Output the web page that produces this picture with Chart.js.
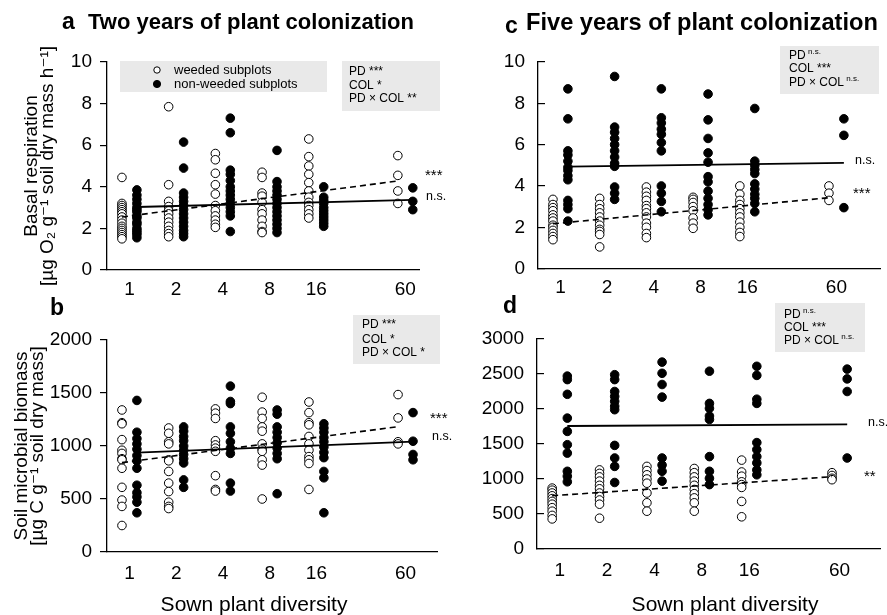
<!DOCTYPE html>
<html lang="en">
<head>
<meta charset="utf-8">
<title>Soil microbial responses to plant colonization</title>
<script src="https://cdn.jsdelivr.net/npm/chart.js@4.4.1/dist/chart.umd.min.js"></script>
<style>
  html, body { margin: 0; padding: 0; background: #fff; }
  #figure { position: relative; width: 887px; height: 615px; overflow: hidden; }
  #figure canvas { position: absolute; }
</style>
</head>
<body>
<div id="figure">
  <canvas id="panel-a" width="460" height="300" style="left:0;top:0"></canvas>
  <canvas id="panel-b" width="460" height="330" style="left:0;top:285px"></canvas>
  <canvas id="panel-c" width="444" height="300" style="left:443px;top:0"></canvas>
  <canvas id="panel-d" width="444" height="330" style="left:443px;top:285px"></canvas>
</div>
<script>
const FONT = "'Liberation Sans', Arial, 'DejaVu Sans', sans-serif";
Chart.defaults.font.family = FONT;
Chart.defaults.color = '#000';

// sown plant diversity levels (x categories)
const diversityLevels = [1, 2, 4, 8, 16, 60];

// basal respiration, two years (weeded / non-weeded), one list per diversity level
const respWeeded2y = [
    [4.45, 3.2, 3.1, 3.0, 2.9, 2.8, 2.7, 2.55, 2.4, 2.25, 2.1, 2.0, 1.9, 1.8, 1.7, 1.6, 1.5],
    [7.85, 4.1, 3.3, 3.05, 2.85, 2.7, 2.5, 2.3, 2.1, 1.9, 1.75, 1.6],
    [5.6, 5.3, 4.65, 4.1, 3.65, 3.1, 2.85, 2.6, 2.4, 2.2, 2.05],
    [4.7, 4.45, 3.7, 3.55, 3.25, 2.9, 2.7, 2.4, 2.1, 1.85, 1.8],
    [6.3, 5.45, 5.0, 4.6, 4.2, 3.8, 3.5, 3.25, 3.1, 2.9, 2.7, 2.5],
    [5.5, 4.55, 3.8, 3.2]
];
const respNonWeeded2y = [
    [3.85, 3.6, 3.4, 3.2, 3.0, 2.9, 2.8, 2.6, 2.5, 2.3, 2.2, 2.0, 1.9, 1.8, 1.7, 1.55],
    [6.15, 4.9, 3.7, 3.5, 3.3, 3.1, 2.9, 2.7, 2.5, 2.3, 2.1, 1.9, 1.75, 1.6],
    [7.3, 6.6, 4.8, 4.6, 4.3, 4.0, 3.8, 3.6, 3.4, 3.2, 3.0, 2.8, 2.6, 1.85],
    [5.75, 4.25, 4.0, 3.8, 3.6, 3.4, 3.2, 3.0, 2.8, 2.6, 2.4, 2.2, 2.0, 1.8],
    [4.0, 3.5, 3.35, 3.2, 3.0, 2.85, 2.7, 2.55, 2.4, 2.25, 2.1],
    [3.95, 3.3, 2.9]
];

// basal respiration, five years
const respWeeded5y = [
    [3.35, 3.1, 2.95, 2.8, 2.6, 2.45, 2.3, 2.1, 2.0, 1.85, 1.7, 1.55, 1.4],
    [3.4, 3.1, 2.9, 2.7, 2.5, 2.3, 2.1, 1.9, 1.8, 1.65, 1.05],
    [3.95, 3.7, 3.5, 3.3, 3.05, 2.9, 2.7, 2.5, 2.2, 2.0, 1.7, 1.5],
    [3.45, 3.35, 3.2, 3.0, 2.8, 2.45, 2.2, 1.95],
    [4.0, 3.6, 3.3, 3.1, 2.9, 2.7, 2.5, 2.25, 2.0, 1.75, 1.55],
    [4.0, 3.65, 3.3]
];
const respNonWeeded5y = [
    [8.7, 7.25, 5.7, 5.5, 5.2, 4.9, 4.75, 4.5, 4.3, 3.3, 3.1, 2.9, 2.3],
    [9.3, 6.85, 6.6, 6.3, 6.0, 5.7, 5.4, 5.1, 4.95, 3.95, 3.65, 3.35],
    [8.7, 7.3, 7.05, 6.75, 6.5, 6.1, 5.7, 4.0, 3.65, 3.25, 2.75],
    [8.45, 7.2, 6.3, 5.6, 5.15, 4.45, 4.2, 3.75, 3.4, 3.1, 2.85, 2.6],
    [7.75, 5.2, 5.0, 4.8, 4.6, 4.1, 3.85, 3.6, 3.4, 3.15, 2.75],
    [7.25, 6.45, 2.95]
];

// microbial biomass, two years
const biomassWeeded2y = [
    [1340, 1220, 1210, 1060, 960, 930, 880, 870, 790, 610, 490, 430, 250],
    [1170, 1120, 1040, 1020, 870, 860, 760, 650, 570, 470, 430, 410],
    [1350, 1310, 1260, 1050, 1010, 980, 950, 720, 590, 575],
    [1460, 1320, 1260, 1180, 1140, 1020, 970, 950, 870, 820, 500],
    [1415, 1315, 1220, 1200, 1090, 1020, 960, 900, 870, 835, 590],
    [1485, 1265, 1040, 1020]
];
const biomassNonWeeded2y = [
    [1430, 1130, 1070, 1020, 970, 910, 860, 790, 630, 560, 520, 470, 370],
    [1180, 1140, 1090, 1050, 1000, 960, 920, 880, 840, 680, 610],
    [1565, 1420, 1400, 1180, 1120, 1040, 980, 930, 650, 575],
    [1340, 1300, 1180, 1130, 1080, 1030, 980, 930, 880, 550],
    [1210, 1170, 1130, 1080, 1040, 990, 940, 890, 760, 700, 370],
    [1315, 1045, 920, 870]
];

// microbial biomass, five years
const biomassWeeded5y = [
    [870, 840, 800, 760, 720, 680, 640, 590, 540, 480, 430],
    [1130, 1080, 1030, 970, 910, 860, 800, 750, 700, 640, 440],
    [1180, 1120, 1060, 1000, 940, 800, 660, 540],
    [1150, 1090, 1030, 970, 910, 850, 790, 730, 660, 540],
    [1270, 1100, 1040, 960, 920, 880, 680, 460],
    [1090, 1050, 1010, 990]
];
const biomassNonWeeded5y = [
    [2470, 2420, 2210, 1870, 1680, 1490, 1370, 1110, 1040, 960],
    [2490, 2420, 2250, 2180, 2110, 2040, 1990, 1480, 1300, 1180, 950],
    [2670, 2510, 2350, 2170, 1300, 1200, 1110, 970],
    [2540, 2080, 2010, 1900, 1850, 1320, 1110, 1010, 920],
    [2610, 2480, 2140, 2080, 1520, 1420, 1320, 1230, 1130, 1060],
    [2570, 2430, 2250, 1300]
];

// fitted regression lines: value at diversity 1 and at diversity 60
const respFitWeeded2y = [2.55, 4.28];
const respFitNonWeeded2y = [3.03, 3.37];
const respFitWeeded5y = [2.17, 3.43];
const respFitNonWeeded5y = [4.94, 5.12];
const biomassFitWeeded2y = [843, 1182];
const biomassFitNonWeeded2y = [937, 1041];
const biomassFitWeeded5y = [761, 1033];
const biomassFitNonWeeded5y = [1757, 1781];

// weeded points sit left of each level, non-weeded right of it
const W_OFF = -0.16;
const N_OFF = 0.16;

function toPoints(groups, offset) {
    const pts = [];
    groups.forEach((vals, i) => {
        const x = Math.log2(diversityLevels[i]) + offset;
        vals.forEach((v) => pts.push({ x, y: v }));
    });
    return pts;
}

function fitLine(ends, offset) {
    const last = diversityLevels[diversityLevels.length - 1];
    return [
        { x: Math.log2(diversityLevels[0]) + offset, y: ends[0] },
        { x: Math.log2(last) + offset, y: ends[1] }
    ];
}

const decorPlugin = {
    id: 'decor',
    afterDraw(chart, args, opts) {
        const ctx = chart.ctx;
        ctx.save();
        ctx.fillStyle = '#000';
        ctx.textAlign = 'left';

        if (opts.letter) {
            ctx.textBaseline = 'alphabetic';
            ctx.font = `bold ${opts.letter.size}px ${FONT}`;
            ctx.fillText(opts.letter.text, opts.letter.x, opts.letter.y);
        }

        if (opts.heading) {
            const h = opts.heading;
            ctx.textBaseline = 'alphabetic';
            ctx.font = `bold ${h.size}px ${FONT}`;
            let size = h.size;
            const w = ctx.measureText(h.text).width;
            if (h.width) size = size * h.width / w;
            ctx.font = `bold ${size.toFixed(2)}px ${FONT}`;
            ctx.fillText(h.text, h.x, h.y);
        }

        if (opts.legend) {
            const lg = opts.legend;
            ctx.fillStyle = '#e9e9e9';
            ctx.fillRect(lg.x, lg.y, lg.w, lg.h);
            ctx.textBaseline = 'middle';
            ctx.font = `${lg.size}px ${FONT}`;
            lg.items.forEach((item) => {
                ctx.beginPath();
                ctx.arc(lg.markerX, item.y, item.filled ? 3.6 : 3.2, 0, Math.PI * 2);
                ctx.fillStyle = item.filled ? '#000' : '#fff';
                ctx.fill();
                ctx.lineWidth = 1;
                ctx.strokeStyle = '#000';
                ctx.stroke();
                ctx.fillStyle = '#000';
                ctx.fillText(item.label, lg.textX, item.y);
            });
        }

        if (opts.stats) {
            const st = opts.stats;
            ctx.fillStyle = '#e9e9e9';
            ctx.fillRect(st.x, st.y, st.w, st.h);
            ctx.fillStyle = '#000';
            ctx.textBaseline = 'middle';
            st.lines.forEach((line) => {
                ctx.font = `${st.size}px ${FONT}`;
                ctx.fillText(line.text, st.textX, line.y);
                if (line.sup) {
                    const w = ctx.measureText(line.text + ' ').width;
                    ctx.font = `${st.supSize}px ${FONT}`;
                    ctx.fillText(line.sup, st.textX + w - 1, line.y - 4);
                }
            });
        }

        if (opts.ends) {
            const yScale = chart.scales.y;
            ctx.textBaseline = 'middle';
            opts.ends.forEach((e) => {
                ctx.font = `${e.size}px ${FONT}`;
                ctx.fillText(e.text, e.x, yScale.getPixelForValue(e.value) + e.dy);
            });
        }

        if (opts.xTitle) {
            ctx.textAlign = 'center';
            ctx.textBaseline = 'middle';
            ctx.font = `${opts.xTitle.size}px ${FONT}`;
            ctx.fillText(opts.xTitle.text, opts.xTitle.x, opts.xTitle.y);
        }
        ctx.restore();
    }
};

function xAxis(max, height, padding) {
    return {
        type: 'linear',
        min: -0.48,
        max,
        afterBuildTicks(scale) {
            scale.ticks = diversityLevels.map((d) => ({ value: Math.log2(d) }));
        },
        ticks: {
            callback: (value, index) => diversityLevels[index],
            font: { size: 19 },
            color: '#000',
            padding,
            autoSkip: false,
            maxRotation: 0
        },
        grid: { drawOnChartArea: false, drawTicks: false },
        border: { color: '#000', width: 1.3 },
        afterFit(scale) { scale.height = height; }
    };
}

function yAxis(max, step, width, inward, title, titlePad) {
    return {
        type: 'linear',
        min: 0,
        max,
        ticks: {
            stepSize: step,
            callback: (value) => String(value),
            font: { size: 19 },
            color: '#000',
            padding: inward ? 20 : 8
        },
        grid: { drawOnChartArea: false, tickLength: inward ? -7 : 7, color: '#000', lineWidth: 1.2 },
        border: { color: '#000', width: 1.3 },
        title: title ? {
            display: true,
            text: title,
            color: '#000',
            font: { size: 19, lineHeight: 0.84 },
            padding: { top: titlePad, bottom: 0 }
        } : { display: false },
        afterFit(scale) { scale.width = width; }
    };
}

function makePanel(id, cfg) {
    return new Chart(document.getElementById(id), {
        type: 'scatter',
        data: {
            datasets: [
                { data: fitLine(cfg.fitW, W_OFF), showLine: true, borderColor: '#000', borderWidth: 1.6, borderDash: [6, 4], pointRadius: 0 },
                { data: fitLine(cfg.fitN, N_OFF), showLine: true, borderColor: '#000', borderWidth: 1.8, pointRadius: 0 },
                { data: toPoints(cfg.weeded, W_OFF), pointRadius: 4.3, backgroundColor: '#fff', borderColor: '#000', borderWidth: 1 },
                { data: toPoints(cfg.nonWeeded, N_OFF), pointRadius: 4.3, backgroundColor: '#000', borderColor: '#000', borderWidth: 1 }
            ]
        },
        options: {
            responsive: false,
            animation: false,
            events: [],
            layout: { padding: cfg.padding },
            scales: { x: cfg.x, y: cfg.y },
            plugins: {
                legend: { display: false },
                tooltip: { enabled: false },
                decor: cfg.decor
            }
        },
        plugins: [decorPlugin]
    });
}

makePanel('panel-a', {
    weeded: respWeeded2y,
    nonWeeded: respNonWeeded2y,
    fitW: respFitWeeded2y,
    fitN: respFitNonWeeded2y,
    padding: { top: 62, right: 41, left: 0, bottom: 0 },
    x: xAxis(6.2, 30, 8),
    y: yAxis(10, 2, 107, false, ['Basal respiration', '[µg O₂ g⁻¹ soil dry mass h⁻¹]'], 24),
    decor: {
        letter: { text: 'a', x: 62, y: 29, size: 23 },
        heading: { text: 'Two years of plant colonization', x: 88, y: 29, size: 22, width: 326 },
        legend: {
            x: 120, y: 61, w: 207, h: 31, size: 13, markerX: 157, textX: 174,
            items: [
                { label: 'weeded subplots', filled: false, y: 70 },
                { label: 'non-weeded subplots', filled: true, y: 84 }
            ]
        },
        stats: {
            x: 342, y: 61, w: 98, h: 50, textX: 349, size: 12, supSize: 8,
            lines: [
                { text: 'PD ***', y: 72 },
                { text: 'COL *', y: 86 },
                { text: 'PD × COL **', y: 99 }
            ]
        },
        ends: [
            { text: '***', x: 425, value: respFitWeeded2y[1], dy: -5, size: 15 },
            { text: 'n.s.', x: 426, value: respFitNonWeeded2y[1], dy: -3, size: 12.5 }
        ]
    }
});

makePanel('panel-b', {
    weeded: biomassWeeded2y,
    nonWeeded: biomassNonWeeded2y,
    fitW: biomassFitWeeded2y,
    fitN: biomassFitNonWeeded2y,
    padding: { top: 55, right: 23, left: 0, bottom: 0 },
    x: xAxis(6.58, 63, 10),
    y: yAxis(2000, 500, 107, false, ['Soil microbial biomass', '[µg C g⁻¹ soil dry mass]'], 14),
    decor: {
        letter: { text: 'b', x: 50, y: 30, size: 23 },
        stats: {
            x: 353, y: 30, w: 87, h: 49, textX: 362, size: 12, supSize: 8,
            lines: [
                { text: 'PD ***', y: 40 },
                { text: 'COL *', y: 55 },
                { text: 'PD × COL *', y: 68 }
            ]
        },
        ends: [
            { text: '***', x: 430, value: biomassFitWeeded2y[1], dy: -8, size: 15 },
            { text: 'n.s.', x: 432, value: biomassFitNonWeeded2y[1], dy: -5, size: 12.5 }
        ],
        xTitle: { text: 'Sown plant diversity', x: 254, y: 320, size: 21 }
    }
});

makePanel('panel-c', {
    weeded: respWeeded5y,
    nonWeeded: respNonWeeded5y,
    fitW: respFitWeeded5y,
    fitN: respFitNonWeeded5y,
    padding: { top: 62, right: 7, left: 0, bottom: 0 },
    x: xAxis(6.84, 29, 8),
    y: yAxis(10, 2, 95, true),
    decor: {
        letter: { text: 'c', x: 62, y: 33, size: 23 },
        heading: { text: 'Five years of plant colonization', x: 83, y: 30, size: 22, width: 352 },
        stats: {
            x: 337, y: 46, w: 99, h: 48, textX: 346, size: 12, supSize: 8,
            lines: [
                { text: 'PD', sup: 'n.s.', y: 56 },
                { text: 'COL ***', y: 69 },
                { text: 'PD × COL', sup: 'n.s.', y: 83 }
            ]
        },
        ends: [
            { text: 'n.s.', x: 412, value: respFitNonWeeded5y[1], dy: -2, size: 12.5 },
            { text: '***', x: 410, value: respFitWeeded5y[1], dy: -4, size: 15 }
        ]
    }
});

makePanel('panel-d', {
    weeded: biomassWeeded5y,
    nonWeeded: biomassNonWeeded5y,
    fitW: biomassFitWeeded5y,
    fitN: biomassFitNonWeeded5y,
    padding: { top: 54, right: 7, left: 0, bottom: 0 },
    x: xAxis(6.76, 66, 10),
    y: yAxis(3000, 500, 94, true),
    decor: {
        letter: { text: 'd', x: 60, y: 28, size: 23 },
        stats: {
            x: 332, y: 18, w: 90, h: 49, textX: 341, size: 12, supSize: 8,
            lines: [
                { text: 'PD', sup: 'n.s.', y: 30 },
                { text: 'COL ***', y: 43 },
                { text: 'PD × COL', sup: 'n.s.', y: 56 }
            ]
        },
        ends: [
            { text: 'n.s.', x: 425, value: biomassFitNonWeeded5y[1], dy: -2, size: 12.5 },
            { text: '**', x: 421, value: biomassFitWeeded5y[1], dy: 0, size: 15 }
        ],
        xTitle: { text: 'Sown plant diversity', x: 282, y: 320, size: 21 }
    }
});
</script>
</body>
</html>
